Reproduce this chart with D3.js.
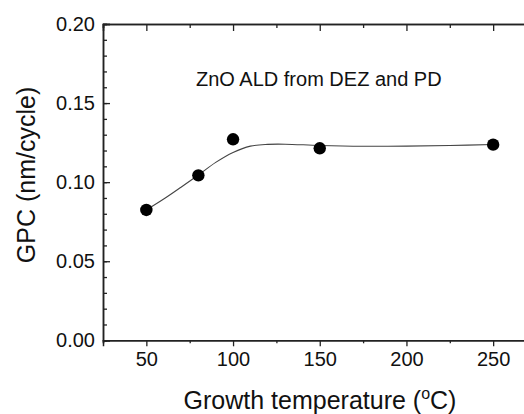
<!DOCTYPE html>
<html>
<head>
<meta charset="utf-8">
<script src="https://cdn.jsdelivr.net/npm/d3@7"></script>
<style>
  body { margin: 0; background: #fff; }
  svg { display: block; }
</style>
</head>
<body>
<div id="container"></div>
<script>
// measured data points
let temps = [50, 80, 100, 150, 250];
let gpc = [0.0824, 0.1043, 0.1271, 0.1214, 0.1237];

// guide-to-the-eye curve
let fitTemps = [50, 60, 70, 80, 90, 100, 110, 120, 130, 150, 175, 200, 225, 250];
let fitGpc = [0.0824, 0.0893, 0.0968, 0.1045, 0.1125, 0.1188, 0.1228, 0.1239, 0.1240, 0.1232, 0.1227, 0.1228, 0.1232, 0.1238];

let xTicks = [50, 100, 150, 200, 250];
let xMinor = [25, 75, 125, 175, 225, 275];
let yTicks = [0, 0.05, 0.1, 0.15, 0.2];

let width = 524, height = 414;

let viz = d3.select("#container")
  .append("svg")
    .attr("width", width)
    .attr("height", height)
;

let x = d3.scaleLinear().domain([25, 275]).range([103, 536.5]);
let y = d3.scaleLinear().domain([0, 0.2]).range([340.3, 24]);

let axisColor = "#222";
let font = "Liberation Sans, Arial, sans-serif";

// bottom axis, ticks outward
let bottomAxis = viz.append("g")
    .attr("transform", "translate(0," + y(0) + ")")
    .call(d3.axisBottom(x).tickValues(xTicks).tickSize(6).tickPadding(6).tickFormat(d3.format("d")))
;
bottomAxis.append("g")
    .call(d3.axisBottom(x).tickValues(xMinor).tickSize(3).tickFormat(""))
;

// top axis, ticks inward, no labels
let topAxis = viz.append("g")
    .attr("transform", "translate(0," + y(0.2) + ")")
    .call(d3.axisBottom(x).tickValues(xTicks).tickSize(7).tickFormat(""))
;
topAxis.append("g")
    .call(d3.axisBottom(x).tickValues(xMinor).tickSize(4).tickFormat(""))
;

// left axis, ticks inward
let leftAxis = viz.append("g")
    .attr("transform", "translate(" + x(25) + ",0)")
    .call(d3.axisLeft(y).tickValues(yTicks).tickSize(-7).tickPadding(8).tickFormat(d3.format(".2f")))
;
leftAxis.append("g")
    .call(d3.axisLeft(y).tickValues(d3.range(0, 0.2001, 0.01)).tickSize(-4).tickFormat(""))
;

viz.selectAll(".domain")
    .attr("stroke", axisColor)
    .attr("stroke-width", 1.5)
;
viz.selectAll(".tick line")
    .attr("stroke", axisColor)
    .attr("stroke-width", 1.3)
;
viz.selectAll(".tick text")
    .attr("font-family", font)
    .attr("font-size", 20)
    .attr("fill", "#111")
;

// fit curve
let line = d3.line()
    .x((d, i) => x(fitTemps[i]))
    .y(d => y(d))
    .curve(d3.curveCatmullRom)
;
viz.append("path")
    .datum(fitGpc)
    .attr("d", line)
    .attr("fill", "none")
    .attr("stroke", "#444")
    .attr("stroke-width", 1.1)
;

// points
viz.selectAll(".pt")
  .data(gpc)
  .enter()
  .append("circle")
    .attr("cx", (d, i) => x(temps[i]))
    .attr("cy", d => y(d))
    .attr("r", 6.2)
    .attr("fill", "black")
;

// annotation
viz.append("text")
    .text("ZnO ALD from DEZ and PD")
    .attr("x", 196)
    .attr("y", 86)
    .attr("font-family", font)
    .attr("font-size", 20)
    .attr("fill", "#111")
;

// axis titles
viz.append("text")
    .attr("transform", "translate(35,175) rotate(-90)")
    .attr("text-anchor", "middle")
    .attr("font-family", font)
    .attr("font-size", 25)
    .attr("fill", "#111")
    .text("GPC (nm/cycle)")
;

let xt = viz.append("text")
    .attr("x", 320)
    .attr("y", 409)
    .attr("text-anchor", "middle")
    .attr("font-family", font)
    .attr("font-size", 25)
    .attr("fill", "#111")
;
xt.append("tspan").text("Growth temperature (");
xt.append("tspan").text("o").attr("font-size", 16).attr("dy", -10);
xt.append("tspan").text("C)").attr("dy", 10);
</script>
</body>
</html>
